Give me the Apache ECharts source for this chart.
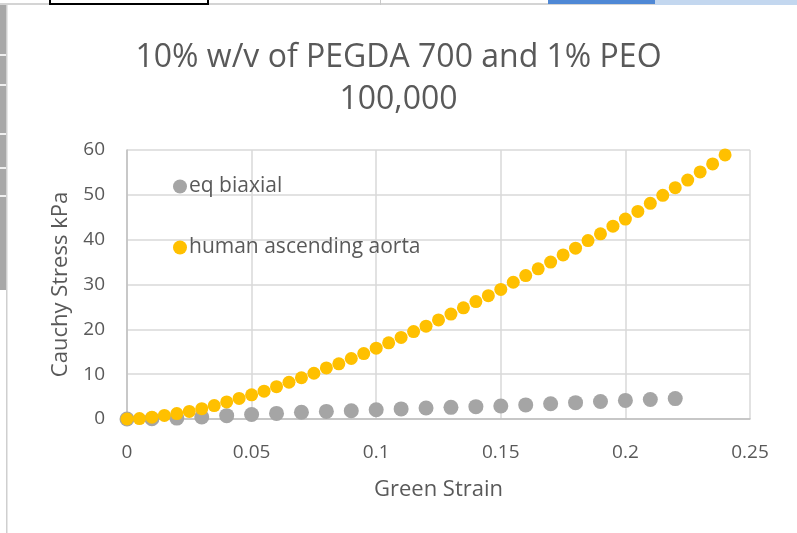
<!DOCTYPE html>
<html>
<head>
<meta charset="utf-8">
<script src="https://cdn.jsdelivr.net/npm/echarts@6/dist/echarts.min.js"></script>
<style>
  html, body { margin: 0; padding: 0; background: #fff; }
  #chart { width: 797px; height: 533px; }
</style>
</head>
<body>
<div id="chart"></div>
<script>
// Green strain samples for each curve
const strainBiaxial = [0, 0.01, 0.02, 0.03, 0.04, 0.05, 0.06, 0.07, 0.08, 0.09, 0.10,
  0.11, 0.12, 0.13, 0.14, 0.15, 0.16, 0.17, 0.18, 0.19, 0.20, 0.21, 0.22];
const stressBiaxial = [0, 0.05, 0.2, 0.45, 0.75, 1.0, 1.25, 1.5, 1.7, 1.85, 2.05,
  2.25, 2.45, 2.6, 2.75, 2.9, 3.15, 3.4, 3.65, 3.9, 4.15, 4.35, 4.55];

const strainAorta = [0, 0.005, 0.01, 0.015, 0.02, 0.025, 0.03, 0.035, 0.04, 0.045,
  0.05, 0.055, 0.06, 0.065, 0.07, 0.075, 0.08, 0.085, 0.09, 0.095,
  0.10, 0.105, 0.11, 0.115, 0.12, 0.125, 0.13, 0.135, 0.14, 0.145,
  0.15, 0.155, 0.16, 0.165, 0.17, 0.175, 0.18, 0.185, 0.19, 0.195,
  0.20, 0.205, 0.21, 0.215, 0.22, 0.225, 0.23, 0.235, 0.24];
const stressAorta = [0, 0.1, 0.4, 0.8, 1.2, 1.7, 2.3, 3.0, 3.8, 4.6,
  5.4, 6.2, 7.2, 8.2, 9.2, 10.2, 11.4, 12.3, 13.5, 14.6,
  15.8, 17.0, 18.2, 19.5, 20.7, 22.1, 23.4, 24.8, 26.2, 27.5,
  28.9, 30.5, 32.0, 33.5, 35.0, 36.6, 38.1, 39.8, 41.3, 43.0,
  44.6, 46.3, 48.1, 49.9, 51.6, 53.3, 55.1, 56.9, 58.9];

const seriesNames = ['eq biaxial', 'human ascending aorta'];
const titleLines = ['10% w/v of PEGDA 700 and 1% PEO', '100,000'];
const xAxisName = 'Green Strain';
const yAxisName = 'Cauchy Stress kPa';

const pair = (xs, ys) => xs.map((x, i) => [x, ys[i]]);

const FONT = '"Open Sans", "Liberation Sans", sans-serif';
const TEXT = '#595959';
const GRID = '#D9D9D9';

const chart = echarts.init(document.getElementById('chart'), null, { renderer: 'canvas' });

chart.setOption({
  backgroundColor: '#ffffff',
  animation: false,
  title: {
    text: titleLines.join('\n'),
    left: 'center',
    top: 32,
    textStyle: { fontFamily: FONT, fontSize: 32, fontWeight: 'normal', color: TEXT, lineHeight: 42 }
  },
  legend: {
    orient: 'vertical',
    left: 168,
    top: 171,
    itemGap: 40,
    itemWidth: 14,
    itemHeight: 14,
    icon: 'circle',
    textStyle: { fontFamily: FONT, fontSize: 21, color: TEXT, padding: [0, 0, 0, -3] },
    data: seriesNames
  },
  grid: { left: 127, right: 47, top: 150, bottom: 114, containLabel: false },
  xAxis: {
    type: 'value',
    min: 0, max: 0.25, interval: 0.05,
    name: xAxisName,
    nameLocation: 'middle',
    nameGap: 60,
    nameTextStyle: { fontFamily: FONT, fontSize: 22, color: TEXT },
    axisLine: { show: true, lineStyle: { color: '#BFBFBF', width: 1.5 } },
    axisTick: { show: false },
    axisLabel: { fontFamily: FONT, fontSize: 19, color: TEXT, margin: 24,
      formatter: v => String(+v.toFixed(2)) },
    splitLine: { show: true, lineStyle: { color: GRID, width: 1.5 } }
  },
  yAxis: {
    type: 'value',
    min: 0, max: 60, interval: 10,
    name: yAxisName,
    nameLocation: 'middle',
    nameGap: 55,
    nameTextStyle: { fontFamily: FONT, fontSize: 22, color: TEXT },
    axisLine: { show: true, lineStyle: { color: '#BFBFBF', width: 1.5 } },
    axisTick: { show: false },
    axisLabel: { fontFamily: FONT, fontSize: 19, color: TEXT, margin: 22 },
    splitLine: { show: true, lineStyle: { color: GRID, width: 1.5 } }
  },
  series: [
    {
      name: seriesNames[0],
      type: 'scatter',
      symbolSize: 15,
      itemStyle: { color: '#A5A5A5', opacity: 1 },
      data: pair(strainBiaxial, stressBiaxial),
      z: 2
    },
    {
      name: seriesNames[1],
      type: 'scatter',
      symbolSize: 13,
      itemStyle: { color: '#FFC000', opacity: 1 },
      data: pair(strainAorta, stressAorta),
      z: 3
    }
  ],
  graphic: [
    // window chrome along the top edge
    { type: 'rect', shape: { x: 0, y: 3, width: 797, height: 2 }, style: { fill: '#D4D4D4' }, silent: true },
    { type: 'rect', shape: { x: 50, y: -2, width: 158, height: 6 }, style: { fill: 'none', stroke: '#000', lineWidth: 2 }, silent: true },
    { type: 'rect', shape: { x: 380, y: 0, width: 1, height: 5 }, style: { fill: '#C8C8C8' }, silent: true },
    { type: 'rect', shape: { x: 548, y: 0, width: 107, height: 4 }, style: { fill: '#4F88D5' }, silent: true },
    { type: 'rect', shape: { x: 655, y: 0, width: 142, height: 5 }, style: { fill: '#C3D7EF' }, silent: true },
    // sidebar along the left edge
    { type: 'rect', shape: { x: 0, y: 5, width: 6, height: 285 }, style: { fill: '#A8A8A8' }, silent: true },
    { type: 'rect', shape: { x: 0, y: 54, width: 6, height: 2 }, style: { fill: '#F0F0F0' }, silent: true },
    { type: 'rect', shape: { x: 0, y: 84, width: 6, height: 2 }, style: { fill: '#F0F0F0' }, silent: true },
    { type: 'rect', shape: { x: 0, y: 133, width: 6, height: 2 }, style: { fill: '#F0F0F0' }, silent: true },
    { type: 'rect', shape: { x: 0, y: 167, width: 6, height: 2 }, style: { fill: '#F0F0F0' }, silent: true },
    { type: 'rect', shape: { x: 0, y: 195, width: 6, height: 2 }, style: { fill: '#F0F0F0' }, silent: true },
    { type: 'rect', shape: { x: 6, y: 5, width: 1.5, height: 528 }, style: { fill: '#CFCFCF' }, silent: true }
  ]
});
</script>
</body>
</html>
